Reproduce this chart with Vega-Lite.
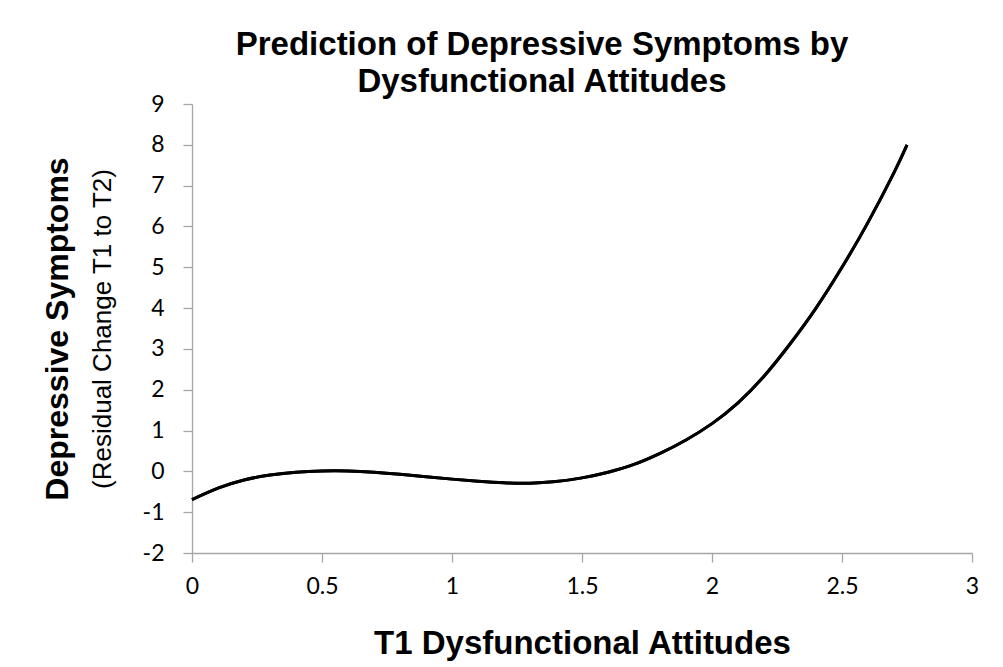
{
  "$schema": "https://vega.github.io/schema/vega-lite/v6.json",
  "width": 780,
  "height": 449,
  "autosize": {"type": "none"},
  "padding": {"left": 192, "top": 104, "right": 31, "bottom": 114},
  "background": "white",
  "config": {"view": {"stroke": null}, "axis": {"grid": false}},
  "title": {
    "text": ["Prediction of Depressive Symptoms by", "Dysfunctional Attitudes"],
    "font": "Liberation Sans",
    "fontSize": 33,
    "fontWeight": "bold",
    "lineHeight": 37,
    "anchor": "middle",
    "offset": -6,
    "dx": -40,
    "color": "black"
  },
  "data": {
    "values": [
      {"x": 0.0, "y": -0.69},
      {"x": 0.1, "y": -0.41},
      {"x": 0.2, "y": -0.21},
      {"x": 0.3, "y": -0.09},
      {"x": 0.4, "y": -0.02},
      {"x": 0.5, "y": 0.01},
      {"x": 0.6, "y": 0.01},
      {"x": 0.7, "y": -0.02},
      {"x": 0.8, "y": -0.07},
      {"x": 0.9, "y": -0.13},
      {"x": 1.0, "y": -0.19},
      {"x": 1.1, "y": -0.24},
      {"x": 1.2, "y": -0.28},
      {"x": 1.3, "y": -0.29},
      {"x": 1.4, "y": -0.25},
      {"x": 1.5, "y": -0.16},
      {"x": 1.6, "y": -0.02},
      {"x": 1.7, "y": 0.17},
      {"x": 1.8, "y": 0.44},
      {"x": 1.9, "y": 0.77},
      {"x": 2.0, "y": 1.17},
      {"x": 2.1, "y": 1.68},
      {"x": 2.2, "y": 2.33},
      {"x": 2.3, "y": 3.12},
      {"x": 2.4, "y": 4.0},
      {"x": 2.5, "y": 5.0},
      {"x": 2.6, "y": 6.1},
      {"x": 2.7, "y": 7.32},
      {"x": 2.75, "y": 8.0}
    ]
  },
  "layer": [
    {
      "mark": {"type": "line", "color": "black", "strokeWidth": 3, "interpolate": "natural"},
      "encoding": {
        "x": {
          "field": "x",
          "type": "quantitative",
          "scale": {"domain": [0, 3], "nice": false, "zero": false},
          "axis": {
            "values": [0, 0.5, 1, 1.5, 2, 2.5, 3],
            "labelExpr": "'' + datum.value",
            "title": "T1 Dysfunctional Attitudes",
            "titleFont": "Liberation Sans",
            "titleFontSize": 33,
            "titleFontWeight": "bold",
            "titleColor": "black",
            "titlePadding": 29,
            "labelFont": "Lato",
            "labelFontSize": 23,
            "labelColor": "black",
            "labelPadding": 13,
            "labelFlush": false,
            "labelOverlap": false,
            "tickSize": 9,
            "tickColor": "#a6a6a6",
            "domainColor": "#a6a6a6",
            "domainWidth": 1.3,
            "tickWidth": 1.3
          }
        },
        "y": {
          "field": "y",
          "type": "quantitative",
          "scale": {"domain": [-2, 9], "nice": false, "zero": false},
          "axis": {
            "orient": "left",
            "values": [-2, -1, 0, 1, 2, 3, 4, 5, 6, 7, 8, 9],
            "labelExpr": "'' + datum.value",
            "title": "(Residual Change T1 to T2)",
            "titleFont": "Liberation Sans",
            "titleFontSize": 26,
            "titleFontWeight": "normal",
            "titleColor": "black",
            "titlePadding": 27,
            "labelFont": "Lato",
            "labelFontSize": 23,
            "labelColor": "black",
            "labelPadding": 19,
            "labelFlush": false,
            "labelOverlap": false,
            "tickSize": 9,
            "tickColor": "#a6a6a6",
            "domainColor": "#a6a6a6",
            "domainWidth": 1.3,
            "tickWidth": 1.3
          }
        }
      }
    },
    {
      "mark": {"type": "line", "color": "black", "strokeWidth": 3, "interpolate": "natural"},
      "encoding": {
        "x": {"field": "x", "type": "quantitative"},
        "y": {
          "field": "y",
          "type": "quantitative",
          "scale": {"domain": [-2, 9], "nice": false, "zero": false},
          "axis": {
            "orient": "left",
            "title": "Depressive Symptoms",
            "titleFont": "Liberation Sans",
            "titleFontSize": 32,
            "titleFontWeight": "bold",
            "titleColor": "black",
            "titlePadding": 118,
            "labels": false,
            "ticks": false,
            "domain": false
          }
        }
      }
    }
  ],
  "resolve": {"scale": {"y": "independent"}}
}
